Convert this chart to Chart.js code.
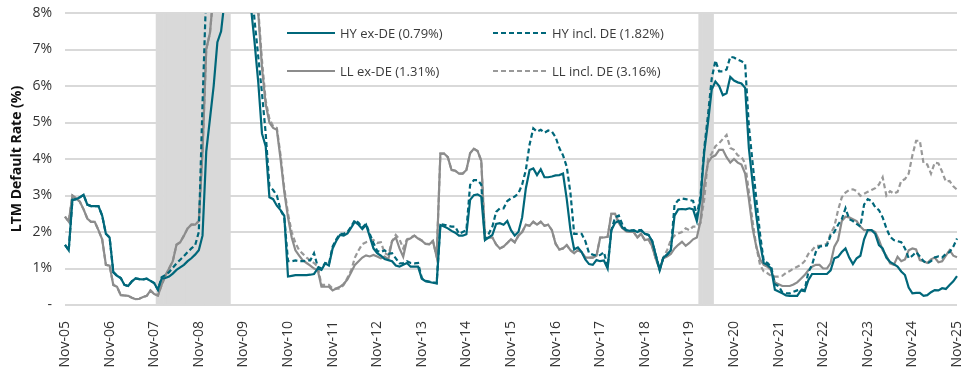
<!DOCTYPE html>
<html>
<head>
<meta charset="utf-8">
<script src="https://cdn.jsdelivr.net/npm/chart.js@4.4.1/dist/chart.umd.min.js"></script>
<style>
  html, body { margin: 0; padding: 0; background: #ffffff; }
  #wrap { position: relative; width: 975px; height: 375px; }
  #legend { position: absolute; left: 0; top: 0; width: 975px; height: 0; font-family: 'Open Sans', sans-serif; font-size: 13px; color: #3a3a3a; }
  .item { position: absolute; height: 18px; line-height: 18px; display: flex; align-items: center; white-space: nowrap; }
  .item svg { margin-right: 5px; display: block; }
</style>
</head>
<body>
<div id="wrap">
  <canvas id="chart" width="975" height="375"></canvas>
  <div id="legend"></div>
</div>
<script>
// ---------- DATA ----------
const MONTH_NAMES = ['Jan','Feb','Mar','Apr','May','Jun','Jul','Aug','Sep','Oct','Nov','Dec'];
const firstMonth = { year: 2005, month: 10 };   // Nov-05
const monthCount = 241;                          // Nov-05 .. Nov-25

const tickLabels = ['Nov-05','Nov-06','Nov-07','Nov-08','Nov-09','Nov-10','Nov-11','Nov-12','Nov-13','Nov-14',
  'Nov-15','Nov-16','Nov-17','Nov-18','Nov-19','Nov-20','Nov-21','Nov-22','Nov-23','Nov-24','Nov-25'];

const yTickLabels = ['-','1%','2%','3%','4%','5%','6%','7%','8%'];

const seriesNames = ['HY ex-DE (0.79%)', 'HY incl. DE (1.82%)', 'LL ex-DE (1.31%)', 'LL incl. DE (3.16%)'];

const recessions = [['Dec-07','Jul-09'], ['Feb-20','May-20']];

const hyExDE = [
  1.65,1.5,2.88,2.9,2.95,3.02,2.75,2.71,2.71,2.71,
  2.45,1.95,1.85,0.9,0.8,0.74,0.55,0.52,0.65,0.73,
  0.71,0.7,0.72,0.66,0.6,0.42,0.72,0.74,0.78,0.86,
  0.96,1.03,1.1,1.2,1.28,1.38,1.5,1.9,4.2,5.1,
  6.0,7.2,7.5,8.4,9.5,10.5,11.2,11.5,11.0,10.0,
  8.2,7.2,6.1,4.7,4.35,2.95,2.9,2.72,2.6,2.45,
  0.78,0.8,0.82,0.82,0.82,0.82,0.83,0.85,1.0,0.96,
  1.14,1.08,1.55,1.76,1.92,1.9,1.96,2.12,2.28,2.2,
  2.08,2.2,1.88,1.55,1.42,1.35,1.26,1.23,1.2,1.08,
  1.05,1.1,1.15,1.05,1.05,1.05,0.72,0.65,0.63,0.61,
  0.59,2.19,2.15,2.1,2.03,1.98,1.9,1.9,1.94,2.88,
  3.01,3.03,2.97,1.78,1.85,1.92,2.22,2.24,2.2,2.3,
  2.05,1.9,2.0,2.4,3.2,3.7,3.74,3.56,3.72,3.5,
  3.5,3.52,3.55,3.56,3.6,2.9,2.05,1.52,1.58,1.45,
  1.25,1.12,1.1,1.23,1.2,1.22,1.0,2.05,2.25,2.3,
  2.12,2.05,2.03,2.05,2.0,2.05,1.95,1.92,1.75,1.35,
  0.95,1.3,1.38,1.5,2.45,2.62,2.63,2.62,2.65,2.62,
  2.3,2.9,4.2,5.0,5.9,6.12,6.0,5.75,5.8,6.25,
  6.15,6.1,6.07,5.95,4.3,3.35,2.45,1.7,1.15,1.1,
  1.0,0.42,0.37,0.32,0.26,0.25,0.25,0.25,0.4,0.38,
  0.68,0.85,0.85,0.85,0.85,0.85,0.95,1.28,1.32,1.45,
  1.55,1.3,1.12,1.28,1.35,1.8,2.05,2.05,1.95,1.64,
  1.55,1.3,1.18,1.12,1.05,0.92,0.82,0.48,0.32,0.33,
  0.33,0.25,0.27,0.35,0.41,0.4,0.46,0.44,0.55,0.65,
  0.79
];

const hyInclDE = [
  1.65,1.5,2.88,2.9,2.95,3.02,2.75,2.71,2.71,2.71,
  2.45,1.95,1.85,0.9,0.8,0.74,0.55,0.52,0.65,0.73,
  0.71,0.7,0.72,0.66,0.6,0.42,0.76,0.82,0.9,1.02,
  1.14,1.24,1.34,1.45,1.55,1.63,2.0,5.5,8.6,10.5,
  12.0,13.0,13.5,13.8,14.0,14.0,13.8,13.5,12.5,11.0,
  9.0,7.8,6.8,5.8,4.7,3.25,3.15,3.0,2.6,2.4,
  1.2,1.2,1.22,1.2,1.2,1.22,1.22,1.42,1.05,1.0,
  1.15,1.12,1.6,1.8,1.95,1.95,2.0,2.15,2.33,2.25,
  2.12,2.22,1.95,1.7,1.48,1.45,1.5,1.4,1.42,1.28,
  1.14,1.15,1.2,1.15,1.14,1.15,0.74,0.66,0.64,0.62,
  0.6,2.22,2.2,2.17,2.15,2.15,1.95,2.0,2.05,3.29,
  3.42,3.42,3.3,1.8,1.95,2.15,2.55,2.65,2.65,2.85,
  2.92,2.97,3.06,3.3,3.7,4.4,4.84,4.75,4.8,4.72,
  4.78,4.75,4.6,4.3,4.1,3.79,3.06,1.95,1.95,1.95,
  1.75,1.42,1.38,1.35,1.37,1.45,1.05,2.05,2.4,2.45,
  2.2,2.05,2.05,2.03,2.05,2.05,1.95,1.92,1.75,1.35,
  0.97,1.3,1.38,1.5,2.75,2.87,2.92,2.9,2.88,2.85,
  2.45,3.0,4.3,5.2,6.2,6.7,6.4,6.4,6.45,6.8,
  6.78,6.72,6.68,6.6,4.9,3.9,2.9,1.95,1.2,1.15,
  1.05,0.57,0.52,0.35,0.32,0.32,0.36,0.4,0.43,0.4,
  0.9,1.1,1.45,1.6,1.62,1.63,1.9,2.0,2.2,2.35,
  2.65,2.35,2.3,2.22,2.15,2.75,2.9,2.85,2.68,2.6,
  2.4,2.1,1.87,1.78,1.75,1.72,1.55,1.28,1.35,1.45,
  1.33,1.2,1.14,1.2,1.3,1.33,1.3,1.4,1.45,1.6,
  1.82
];

const llExDE = [
  2.42,2.28,3.0,2.92,2.83,2.62,2.37,2.28,2.28,2.05,
  1.8,1.1,1.08,0.55,0.5,0.27,0.26,0.25,0.2,0.16,
  0.17,0.22,0.25,0.4,0.3,0.26,0.55,0.8,1.0,1.2,
  1.65,1.72,1.9,2.1,2.2,2.2,2.3,4.2,7.0,7.45,
  8.6,9.5,10.5,11.5,12.0,12.0,12.0,11.5,11.0,10.2,
  9.4,8.6,8.0,6.5,5.5,5.0,4.85,4.8,4.0,3.1,
  2.4,1.85,1.5,1.35,1.22,1.15,1.08,1.0,0.96,0.5,
  0.5,0.5,0.4,0.45,0.5,0.58,0.7,0.9,1.1,1.2,
  1.3,1.36,1.33,1.37,1.33,1.28,1.33,1.25,1.75,1.85,
  1.55,1.32,1.78,1.83,1.9,1.82,1.76,1.67,1.66,1.75,
  1.32,4.15,4.15,4.05,3.7,3.68,3.6,3.6,3.7,4.16,
  4.28,4.22,3.95,1.83,1.85,1.85,1.66,1.55,1.6,1.7,
  1.8,1.72,1.9,2.0,2.2,2.17,2.28,2.2,2.28,2.17,
  2.2,2.05,1.68,1.52,1.55,1.64,1.5,1.42,1.5,1.45,
  1.3,1.3,1.3,1.35,1.85,1.85,1.87,2.5,2.5,2.25,
  2.1,2.02,2.0,2.0,1.85,1.95,1.78,1.8,1.6,1.25,
  0.98,1.28,1.33,1.4,1.55,1.65,1.73,1.62,1.7,1.8,
  1.85,2.3,3.3,3.9,4.05,4.1,4.25,4.25,4.05,3.9,
  4.0,3.9,3.85,3.6,2.9,2.1,1.6,1.25,1.1,1.05,
  0.95,0.62,0.57,0.52,0.52,0.52,0.56,0.62,0.72,0.82,
  0.95,1.05,1.1,1.1,1.0,1.0,1.15,1.6,1.78,2.3,
  2.42,2.4,2.35,2.3,2.15,2.05,2.05,2.05,2.0,1.78,
  1.5,1.35,1.14,1.1,1.32,1.2,1.25,1.5,1.55,1.52,
  1.23,1.2,1.15,1.25,1.3,1.17,1.2,1.35,1.5,1.35,
  1.31
];

const llInclDE = [
  2.42,2.28,3.0,2.92,2.83,2.62,2.37,2.28,2.28,2.05,
  1.8,1.1,1.08,0.55,0.5,0.27,0.26,0.25,0.2,0.16,
  0.17,0.22,0.25,0.4,0.3,0.26,0.55,0.8,1.0,1.2,
  1.65,1.72,1.9,2.1,2.2,2.2,2.3,4.2,7.0,7.45,
  8.6,9.5,10.5,11.5,12.0,12.0,12.0,11.5,11.0,10.2,
  9.5,8.7,8.1,6.7,5.6,5.1,4.9,4.85,4.1,3.2,
  2.5,2.0,1.7,1.5,1.4,1.3,1.22,1.15,1.05,0.55,
  0.55,0.55,0.45,0.45,0.45,0.55,0.75,0.95,1.3,1.5,
  1.67,1.72,1.75,1.78,1.7,1.72,1.42,1.37,1.75,1.92,
  1.8,1.55,1.8,1.85,1.9,1.83,1.77,1.68,1.67,1.76,
  1.33,4.15,4.15,4.05,3.7,3.68,3.6,3.6,3.7,4.16,
  4.28,4.22,3.95,1.83,1.85,1.85,1.66,1.55,1.6,1.7,
  1.8,1.72,1.9,2.0,2.2,2.17,2.28,2.2,2.28,2.17,
  2.2,2.05,1.68,1.52,1.55,1.64,1.5,1.42,1.5,1.45,
  1.3,1.3,1.3,1.35,1.85,1.85,1.87,2.5,2.5,2.25,
  2.1,2.02,2.0,2.0,1.85,1.95,1.78,1.8,1.6,1.25,
  1.0,1.3,1.5,1.78,1.9,1.96,2.0,2.1,2.05,2.15,
  2.15,2.25,2.9,4.0,4.15,4.35,4.43,4.55,4.66,4.3,
  4.25,4.1,4.06,3.88,3.1,2.3,1.6,1.1,0.92,0.87,
  0.8,0.78,0.78,0.8,0.88,0.93,1.0,1.05,1.1,1.2,
  1.4,1.5,1.62,1.62,1.64,1.68,1.96,2.15,2.6,2.95,
  3.08,3.15,3.17,3.12,2.99,3.05,3.1,3.15,3.2,3.3,
  3.5,3.0,3.12,3.05,3.1,3.4,3.45,3.6,4.1,4.5,
  4.5,3.88,3.85,3.6,3.9,3.88,3.65,3.38,3.4,3.25,
  3.16
];

// ---------- BUILD ----------
const categories = [];
for (let k = 0; k < monthCount; k++) {
  const m = (firstMonth.month + k) % 12;
  const y = firstMonth.year + Math.floor((firstMonth.month + k) / 12);
  categories.push(MONTH_NAMES[m] + '-' + String(y % 100).padStart(2, '0'));
}
const recessionBars = categories.map(() => null);
recessions.forEach(([a, b]) => {
  const i0 = categories.indexOf(a), i1 = categories.indexOf(b);
  for (let i = i0; i <= i1; i++) recessionBars[i] = 8;
});

const TEAL = '#00677A';
const GREY = '#8C8C8C';
const GREY_D = '#999999';
const FONT = "'Open Sans', sans-serif";

const lineStyles = [
  { data: hyExDE,   color: TEAL,   dash: [],     width: 2.2, order: 1 },
  { data: hyInclDE, color: TEAL,   dash: [5, 3], width: 2.2, order: 2 },
  { data: llExDE,   color: GREY,   dash: [],     width: 2.2, order: 3 },
  { data: llInclDE, color: GREY_D, dash: [5, 3], width: 2.2, order: 4 }
];

const datasets = lineStyles.map((s, k) => ({
  type: 'line',
  label: seriesNames[k],
  data: s.data,
  borderColor: s.color,
  backgroundColor: s.color,
  borderWidth: s.width,
  borderDash: s.dash,
  pointRadius: 0,
  pointHoverRadius: 0,
  tension: 0,
  fill: false,
  order: s.order
}));
datasets.push({
  type: 'bar',
  label: 'Recession',
  data: recessionBars,
  backgroundColor: '#D9D9D9',
  borderWidth: 0,
  barPercentage: 1,
  categoryPercentage: 1,
  order: 10
});

const chart = new Chart(document.getElementById('chart'), {
  type: 'line',
  data: { labels: categories, datasets },
  options: {
    responsive: false,
    animation: false,
    devicePixelRatio: 1,
    layout: { padding: { left: 0, right: 18, top: 13, bottom: 0 } },
    plugins: { legend: { display: false }, tooltip: { enabled: false } },
    scales: {
      x: {
        type: 'category',
        offset: false,
        grid: { display: false, offset: false },
        border: { display: false },
        ticks: {
          autoSkip: false,
          minRotation: 90,
          maxRotation: 90,
          padding: 8,
          color: '#333333',
          font: { family: FONT, size: 14 },
          callback: function (v, i) {
            const lab = categories[i];
            return tickLabels.includes(lab) ? lab : null;
          }
        },
        afterFit: s => { s.height = 70; s.paddingLeft = 0; s.paddingRight = 0; }
      },
      y: {
        min: 0,
        max: 8,
        grid: { color: '#D9D9D9', lineWidth: 2, drawTicks: false },
        border: { display: false },
        ticks: {
          stepSize: 1,
          padding: 13,
          color: '#333333',
          font: { family: FONT, size: 14 },
          callback: v => yTickLabels[v]
        },
        title: {
          display: true,
          text: 'LTM Default Rate (%)',
          color: '#111111',
          font: { family: FONT, size: 14, weight: 'bold' },
          padding: { top: 9, bottom: 0 }
        },
        afterFit: s => { s.width = 65; s.paddingTop = 0; s.paddingBottom = 0; }
      }
    }
  }
});

// ---------- HTML LEGEND ----------
const legendPos = [
  { x: 287, y: 33, w: 48 },
  { x: 493, y: 33, w: 54 },
  { x: 287, y: 71, w: 48 },
  { x: 493, y: 71, w: 54 }
];
const legendEl = document.getElementById('legend');
lineStyles.forEach((s, k) => {
  const p = legendPos[k];
  const item = document.createElement('div');
  item.className = 'item';
  item.style.left = p.x + 'px';
  item.style.top = (p.y - 9) + 'px';
  const dash = s.dash.length ? ` stroke-dasharray="${s.dash.join(' ')}"` : '';
  item.innerHTML = `<svg width="${p.w}" height="4"><line x1="0" y1="2" x2="${p.w}" y2="2" stroke="${s.color}" stroke-width="2"${dash}/></svg><span>${seriesNames[k]}</span>`;
  legendEl.appendChild(item);
});
</script>
</body>
</html>
